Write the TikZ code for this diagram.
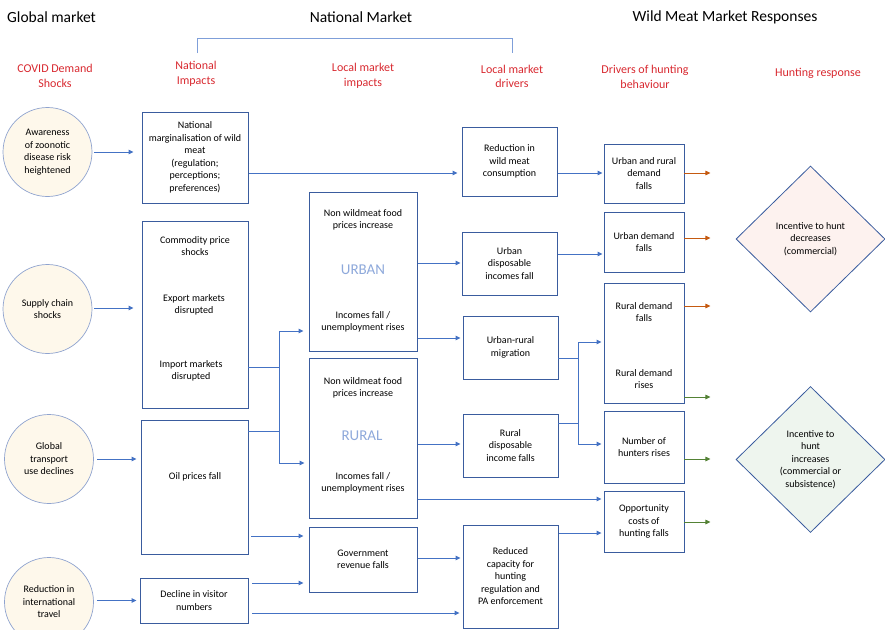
\documentclass[tikz,border=0pt]{standalone}
\usepackage{fontspec}
\setmainfont{Carlito}
\usetikzlibrary{shapes.geometric,arrows.meta}
\definecolor{conn}{HTML}{4472C4}
\definecolor{boxb}{HTML}{3A5C9E}
\definecolor{circb}{HTML}{8FA3CF}
\definecolor{cream}{HTML}{FEF8EB}
\definecolor{redt}{HTML}{D8282F}
\definecolor{org}{HTML}{C55A11}
\definecolor{grn}{HTML}{548235}
\definecolor{pinkf}{HTML}{FDF2EF}
\definecolor{greenf}{HTML}{EEF5EE}
\definecolor{lblue}{HTML}{8EA9DB}
\definecolor{brk}{HTML}{7F9FD9}
\newcommand\mkbox[6]{\node[box, minimum width={(#4-#2)*1pt}, minimum height={(#5-#3)*1pt}] (#1) at ({(#2+#4)/2},{(#3+#5)/2}) {#6};}
\begin{document}
\begin{tikzpicture}[x=1pt,y=-1pt,
  every node/.style={font=\fontsize{10}{12.5}\selectfont, align=center, inner sep=0pt},
  box/.style={draw=boxb, line width=0.9pt, fill=white},
  circ/.style={circle, draw=circb, line width=0.7pt, fill=cream, minimum size=89pt},
  dia/.style={diamond, draw=boxb, line width=0.8pt, minimum width=149pt, minimum height=146pt},
  hdr/.style={font=\fontsize{15.5}{18}\selectfont},
  sub/.style={text=redt, font=\fontsize{12}{14.5}\selectfont},
  big/.style={text=lblue, font=\fontsize{15}{18}\selectfont},
  ln/.style={draw=conn, line width=0.9pt},
  arr/.style={draw=conn, line width=0.9pt, -{Triangle[length=5pt,width=4.5pt]}},
  oarr/.style={draw=org, line width=0.9pt, -{Triangle[length=5pt,width=4.5pt]}},
  garr/.style={draw=grn, line width=0.9pt, -{Triangle[length=5pt,width=4.5pt]}}]
\useasboundingbox (0,0) rectangle (885,629);
\clip (0,0) rectangle (885,629);

% headers
\node[hdr, anchor=west] (hg) at (7,17) {Global market};
\node[hdr] (hn) at (361,17) {National Market};
\node[hdr] (hw) at (725,17) {Wild Meat Market Responses};
\draw[draw=brk, line width=1pt] (197,53) -- (197,38) -- (512,38) -- (512,53);

\node[sub] (s1) at (55,76) {COVID Demand\\Shocks};
\node[sub] (s2) at (196,74) {National\\Impacts};
\node[sub] (s3) at (363,76) {Local market\\impacts};
\node[sub] (s4) at (512,76.5) {Local market\\drivers};
\node[sub] (s5) at (645,77) {Drivers of hunting\\behaviour};
\node[sub] (s6) at (818,73) {Hunting response};

% circles
\node[circ] (C1) at (47.5,152) {Awareness\\of zoonotic\\disease risk\\heightened};
\node[circ] (C2) at (47.5,309) {Supply chain\\shocks};
\node[circ] (C3) at (49,459) {Global\\transport\\use declines};
\node[circ] (C4) at (49,602) {Reduction in\\international\\travel};

% national impacts
\mkbox{B1}{142}{112}{248}{203}{National\\marginalisation of wild\\meat\\(regulation;\\perceptions;\\preferences)}
\mkbox{B2}{142}{221}{248}{408}{}
\node (t21) at (195,246) {Commodity price\\shocks};
\node (t22) at (194,305) {Export markets\\disrupted};
\node (t23) at (191,371) {Import markets\\disrupted};
\mkbox{B3}{141}{420}{248}{554}{}
\node (t31) at (195,477) {Oil prices fall};
\mkbox{B4}{140}{578}{248}{623}{Decline in visitor\\numbers}

% local market impacts
\mkbox{UR}{309}{192}{417}{351}{}
\node (u1) at (363,220) {Non wildmeat food\\prices increase};
\node[big] (u2) at (363,270) {URBAN};
\node (u3) at (363,322) {Incomes fall /\\unemployment rises};
\mkbox{RU}{309}{358}{417}{518}{}
\node (r1) at (363,388) {Non wildmeat food\\prices increase};
\node[big] (r2) at (362,436) {RURAL};
\node (r3) at (363,483) {Incomes fall /\\unemployment rises};
\mkbox{GOV}{309}{527}{417}{592}{Government\\revenue falls}

% local market drivers
\mkbox{RWM}{462}{127}{557}{196}{Reduction in\\wild meat\\consumption}
\mkbox{UDI}{462}{232}{557}{295}{Urban\\disposable\\incomes fall}
\mkbox{MIG}{463}{316}{558}{379}{Urban-rural\\migration}
\mkbox{RDI}{463}{414}{558}{477}{Rural\\disposable\\income falls}
\mkbox{RCAP}{463}{525}{558}{628}{Reduced\\capacity for\\hunting\\regulation and\\PA enforcement}

% drivers of hunting behaviour
\mkbox{URD}{604}{144}{684}{203}{Urban and rural\\demand\\falls}
\mkbox{UDF}{604}{212}{684}{272}{Urban demand\\falls}
\mkbox{RDB}{604}{283}{684}{403}{}
\node (d1) at (644,312) {Rural demand\\falls};
\node (d2) at (644,379) {Rural demand\\rises};
\mkbox{NH}{604}{411}{684}{483}{Number of\\hunters rises}
\mkbox{OPP}{604}{491}{684}{552}{Opportunity\\costs of\\hunting falls}

% hunting responses
\node[dia, fill=pinkf] (D1) at (810.5,239) {Incentive to hunt\\decreases\\(commercial)};
\node[dia, fill=greenf] (D2) at (810.5,459.5) {Incentive to\\hunt\\increases\\(commercial or\\subsistence)};

% connectors: circles to national impacts
\draw[arr, shorten <=2pt, shorten >=8pt] (C1.east) -- (B1.west |- C1.east);
\draw[arr, shorten <=2pt, shorten >=8pt] (C2.east |- 0,308) -- (B2.west |- 0,308);
\draw[arr, shorten <=3pt, shorten >=4pt] (C3.east) -- (B3.west |- C3.east);
\draw[arr, shorten <=3pt, shorten >=3pt] (C4.east |- B4.west) -- (B4.west);

% national impacts to local
\draw[arr, shorten <=1pt, shorten >=4pt] (B1.east |- 0,173) -- (RWM.west |- 0,173);
\coordinate (J1t) at (279,331);
\coordinate (J1b) at (279,463);
\draw[ln] (B2.east |- 0,367) -- (J1t |- 0,367);
\draw[ln] (B3.east |- 0,431) -- (J1t |- 0,431);
\draw[arr, shorten >=5pt] (J1b) -- (J1t) -- (UR.west |- J1t);
\draw[arr, shorten >=4pt] (J1t) -- (J1b) -- (RU.west |- J1b);
\draw[arr, shorten <=3pt, shorten >=5pt] (B3.east |- 0,536) -- (GOV.west |- 0,536);
\draw[arr, shorten <=4pt, shorten >=5pt] (B4.east |- 0,583) -- (GOV.west |- 0,583);
\draw[arr, shorten <=4pt, shorten >=3pt] (B4.east |- 0,613) -- (RCAP.west |- 0,613);

% local impacts to drivers
\draw[arr, shorten <=1pt, shorten >=1pt] (UR.east |- 0,263) -- (UDI.west |- 0,263);
\draw[arr, shorten <=1pt, shorten >=2pt] (UR.east |- 0,338) -- (MIG.west |- 0,338);
\draw[arr, shorten <=1pt, shorten >=2pt] (RU.east |- 0,444) -- (RDI.west |- 0,444);
\draw[arr, shorten <=1pt, shorten >=2pt] (RU.east |- 0,499) -- (OPP.west |- 0,499);
\draw[arr, shorten <=1pt, shorten >=2pt] (GOV.east |- 0,558) -- (RCAP.west |- 0,558);

% drivers to hunting drivers
\draw[arr, shorten <=1pt, shorten >=1pt] (RWM.east |- 0,173) -- (URD.west |- 0,173);
\draw[arr, shorten <=1pt, shorten >=1pt] (UDI.east |- 0,254) -- (UDF.west |- 0,254);
\coordinate (J2t) at (578,342);
\coordinate (J2b) at (578,444);
\draw[ln] (MIG.east |- 0,358) -- (J2t |- 0,358);
\draw[ln] (RDI.east |- 0,423) -- (J2t |- 0,423);
\draw[arr, shorten >=2pt] (J2b) -- (J2t) -- (RDB.west |- J2t);
\draw[arr, shorten >=2pt] (J2t) -- (J2b) -- (NH.west |- J2b);
\draw[arr, shorten <=1pt, shorten >=2pt] (RCAP.east |- 0,533) -- (OPP.west |- 0,533);

% outgoing response arrows
\draw[oarr] (URD.east |- 0,173) -- ++(26,0);
\draw[oarr] (UDF.east |- 0,238) -- ++(26,0);
\draw[oarr] (RDB.east |- 0,306) -- ++(26,0);
\draw[garr] (RDB.east |- 0,397) -- ++(26,0);
\draw[garr] (NH.east |- 0,459) -- ++(26,0);
\draw[garr] (OPP.east |- 0,522) -- ++(26,0);
\end{tikzpicture}
\end{document}
